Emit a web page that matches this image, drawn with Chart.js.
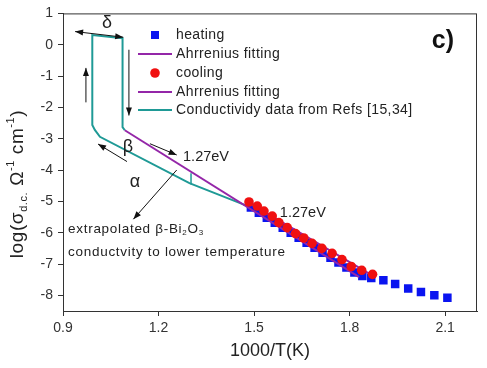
<!DOCTYPE html>
<html>
<head>
<meta charset="utf-8">
<script src="https://cdn.jsdelivr.net/npm/chart.js@4.4.0/dist/chart.umd.min.js"></script>
<style>
  html, body { margin: 0; padding: 0; background: #fff; }
</style>
</head>
<body>
<canvas id="chart" width="487" height="368"></canvas>
<script>
// heating (blue squares)
const heatX = [1.49, 1.515, 1.54, 1.565, 1.59, 1.615, 1.64, 1.665, 1.69, 1.715, 1.74, 1.765, 1.79, 1.815, 1.84, 1.868, 1.906, 1.943, 1.984, 2.024, 2.066, 2.107];
const heatY = [-5.2, -5.36, -5.52, -5.68, -5.84, -6.0, -6.16, -6.32, -6.48, -6.64, -6.8, -6.95, -7.11, -7.27, -7.38, -7.45, -7.52, -7.64, -7.78, -7.89, -8.0, -8.08];

// cooling (red circles)
const coolX = [1.484, 1.51, 1.531, 1.557, 1.578, 1.604, 1.63, 1.656, 1.682, 1.713, 1.745, 1.776, 1.805, 1.838, 1.872];
const coolY = [-5.02, -5.15, -5.31, -5.47, -5.68, -5.84, -6.03, -6.17, -6.34, -6.5, -6.66, -6.86, -7.08, -7.2, -7.33];

// Arrhenius fits
const fitHeatX = [1.094, 1.83];
const fitHeatY = [-2.73, -7.42];
const fitCoolX = [1.48, 1.86];
const fitCoolY = [-5.02, -7.3];

// conductivity data from refs (hysteresis loop)
const refX = [1.094, 1.087, 1.087, 0.992, 0.992, 1.0, 1.016, 1.297, 1.494];
const refY = [-2.73, -2.63, 0.21, 0.31, -2.56, -2.72, -2.94, -4.42, -5.21];
const refTickX = [1.302, 1.302];
const refTickY = [-4.1, -4.46];

const xTicks = [0.9, 1.2, 1.5, 1.8, 2.1];
const yTicks = [1, 0, -1, -2, -3, -4, -5, -6, -7, -8];

const BLUE = '#0a14f0';
const RED = '#f01010';
const PURPLE = '#9426a8';
const TEAL = '#1f9a96';
const FONT = "'Liberation Sans', Arial, sans-serif";

const pts = (xs, ys) => xs.map((x, i) => ({ x: x, y: ys[i] }));

const datasets = [
  { label: 'heating', data: pts(heatX, heatY), showLine: false, pointStyle: 'rect',
    pointRadius: 6, backgroundColor: BLUE, borderColor: BLUE, borderWidth: 0, order: 3 },
  { label: 'Ahrrenius fitting', data: pts(fitHeatX, fitHeatY), showLine: true, pointRadius: 0,
    borderColor: PURPLE, borderWidth: 2, order: 2 },
  { label: 'cooling', data: pts(coolX, coolY), showLine: false, pointStyle: 'circle',
    pointRadius: 4.8, backgroundColor: RED, borderColor: RED, borderWidth: 0, order: 0 },
  { label: 'Ahrrenius fitting', data: pts(fitCoolX, fitCoolY), showLine: true, pointRadius: 0,
    borderColor: PURPLE, borderWidth: 2, order: 1 },
  { label: 'Conductividy data from Refs [15,34]', data: pts(refX, refY), showLine: true, pointRadius: 0,
    borderColor: TEAL, borderWidth: 2, order: 4 },
  { label: '', data: pts(refTickX, refTickY), showLine: true, pointRadius: 0,
    borderColor: TEAL, borderWidth: 1.5, order: 4 },
];

const head = (ctx, x, y, ang) => {
  ctx.save();
  ctx.translate(x, y);
  ctx.rotate(ang);
  ctx.beginPath();
  ctx.moveTo(0, 0);
  ctx.lineTo(-8, -3);
  ctx.lineTo(-8, 3);
  ctx.closePath();
  ctx.fill();
  ctx.restore();
};

const arrow = (chart, x1, y1, x2, y2, both) => {
  const ctx = chart.ctx;
  const sx = chart.scales.x, sy = chart.scales.y;
  const a = [sx.getPixelForValue(x1), sy.getPixelForValue(y1)];
  const b = [sx.getPixelForValue(x2), sy.getPixelForValue(y2)];
  const ang = Math.atan2(b[1] - a[1], b[0] - a[0]);
  ctx.strokeStyle = '#111';
  ctx.fillStyle = '#111';
  ctx.lineWidth = 1;
  ctx.beginPath();
  ctx.moveTo(a[0], a[1]);
  ctx.lineTo(b[0], b[1]);
  ctx.stroke();
  head(ctx, b[0], b[1], ang);
  if (both) head(ctx, a[0], a[1], ang + Math.PI);
};

const label = (chart, text, x, y, size, align) => {
  const ctx = chart.ctx;
  ctx.font = size + 'px ' + FONT;
  ctx.fillStyle = '#222';
  ctx.textAlign = align || 'left';
  ctx.textBaseline = 'middle';
  ctx.fillText(text, chart.scales.x.getPixelForValue(x), chart.scales.y.getPixelForValue(y));
};

// draw a run of [text, size, dy] pieces starting at x
const runs = (ctx, parts, x, y) => {
  parts.forEach(([t, s, dy]) => {
    ctx.font = s + 'px ' + FONT;
    ctx.fillText(t, x, y + dy);
    x += ctx.measureText(t).width;
  });
};
const runsWidth = (ctx, parts) => parts.reduce((w, [t, s]) => {
  ctx.font = s + 'px ' + FONT;
  return w + ctx.measureText(t).width;
}, 0);

const decor = {
  id: 'decor',
  afterDatasetsDraw(chart) {
    const ctx = chart.ctx;
    const ca = chart.chartArea;
    ctx.save();

    // frame
    ctx.strokeStyle = '#333';
    ctx.lineWidth = 1;
    ctx.strokeRect(ca.left + 0.5, ca.top + 0.5, ca.right - ca.left - 1, ca.bottom - ca.top);

    // arrows
    arrow(chart, 0.938, 0.42, 1.089, 0.24, true);
    arrow(chart, 0.972, -1.84, 0.972, -0.74);
    arrow(chart, 1.107, -0.16, 1.107, -2.26);
    arrow(chart, 1.101, -3.73, 1.010, -3.17);
    arrow(chart, 1.173, -3.16, 1.257, -3.52);
    arrow(chart, 1.257, -4.0, 1.121, -5.57);

    // annotations
    label(chart, 'δ', 1.038, 0.68, 18, 'center');
    label(chart, 'β', 1.104, -3.26, 18, 'center');
    label(chart, 'α', 1.126, -4.37, 18, 'center');
    label(chart, '1.27eV', 1.277, -3.58, 14.5);
    label(chart, '1.27eV', 1.581, -5.37, 14.5);

    ctx.fillStyle = '#222';
    ctx.textAlign = 'left';
    ctx.textBaseline = 'middle';
    ctx.letterSpacing = '0.7px';
    const ex = chart.scales.x.getPixelForValue(0.916);
    runs(ctx, [['extrapolated β-Bi', 13.5, 0], ['2', 8, 4], ['O', 13.5, 0], ['3', 8, 4]],
      ex, chart.scales.y.getPixelForValue(-5.88));
    runs(ctx, [['conductvity to lower temperature', 13.5, 0]], ex, chart.scales.y.getPixelForValue(-6.63));
    ctx.letterSpacing = '0px';

    ctx.font = 'bold 25px ' + FONT;
    ctx.textAlign = 'center';
    ctx.fillStyle = '#111';
    ctx.fillText('c)', chart.scales.x.getPixelForValue(2.093), chart.scales.y.getPixelForValue(0.12));

    // legend
    const rows = [35, 54, 73, 92, 110];
    ctx.letterSpacing = '0.4px';
    [0, 1, 2, 3, 4].forEach((di, i) => {
      const ds = chart.data.datasets[di];
      const y = rows[i];
      if (ds.showLine) {
        ctx.strokeStyle = ds.borderColor;
        ctx.lineWidth = 2;
        ctx.beginPath();
        ctx.moveTo(138, y);
        ctx.lineTo(172, y);
        ctx.stroke();
      } else if (ds.pointStyle === 'rect') {
        ctx.fillStyle = ds.backgroundColor;
        ctx.fillRect(151, y - 4, 8, 8);
      } else {
        ctx.fillStyle = ds.backgroundColor;
        ctx.beginPath();
        ctx.arc(155, y, 4.8, 0, Math.PI * 2);
        ctx.fill();
      }
      ctx.fillStyle = '#222';
      ctx.font = '14px ' + FONT;
      ctx.textAlign = 'left';
      ctx.textBaseline = 'middle';
      ctx.fillText(ds.label, 176, y);
    });
    ctx.letterSpacing = '0px';

    // y axis title with sub/superscripts
    ctx.save();
    ctx.translate(18, 184);
    ctx.rotate(-Math.PI / 2);
    ctx.fillStyle = '#222';
    ctx.textAlign = 'left';
    ctx.textBaseline = 'middle';
    ctx.letterSpacing = '0.6px';
    const parts = [['log(σ', 19, 0], ['d.c.', 11, 6], [' Ω', 19, 0], ['-1', 11, -7], [' cm', 19, 0], ['-1', 11, -7], [')', 19, 0]];
    runs(ctx, parts, -runsWidth(ctx, parts) / 2, 0);
    ctx.letterSpacing = '0px';
    ctx.restore();

    ctx.restore();
  }
};

new Chart(document.getElementById('chart'), {
  type: 'scatter',
  data: { datasets: datasets },
  options: {
    responsive: false,
    animation: false,
    layout: { padding: { top: 10, right: 10, left: 0, bottom: 0 } },
    plugins: { legend: { display: false }, tooltip: { enabled: false } },
    scales: {
      x: {
        type: 'linear',
        min: 0.9,
        max: 2.2,
        afterBuildTicks: (s) => { s.ticks = xTicks.map((v) => ({ value: v })); },
        afterFit: (s) => { s.height = 57; },
        grid: { drawOnChartArea: false, drawTicks: true, tickLength: 5, color: '#333' },
        border: { color: '#333' },
        ticks: { color: '#333', font: { family: FONT, size: 14 }, padding: 4,
          callback: (v) => v.toFixed(1) },
        title: { display: true, text: '1000/T(K)', color: '#222',
          font: { family: FONT, size: 18 }, padding: { top: 0, bottom: 6 } },
      },
      y: {
        type: 'linear',
        min: -8.5,
        max: 1,
        afterBuildTicks: (s) => { s.ticks = yTicks.map((v) => ({ value: v })); },
        afterFit: (s) => { s.width = 63; },
        grid: { drawOnChartArea: false, drawTicks: true, tickLength: 5, color: '#333' },
        border: { color: '#333' },
        ticks: { color: '#333', font: { family: FONT, size: 14 }, padding: 5,
          callback: (v) => String(v) },
      },
    },
  },
  plugins: [decor],
});
</script>
</body>
</html>
